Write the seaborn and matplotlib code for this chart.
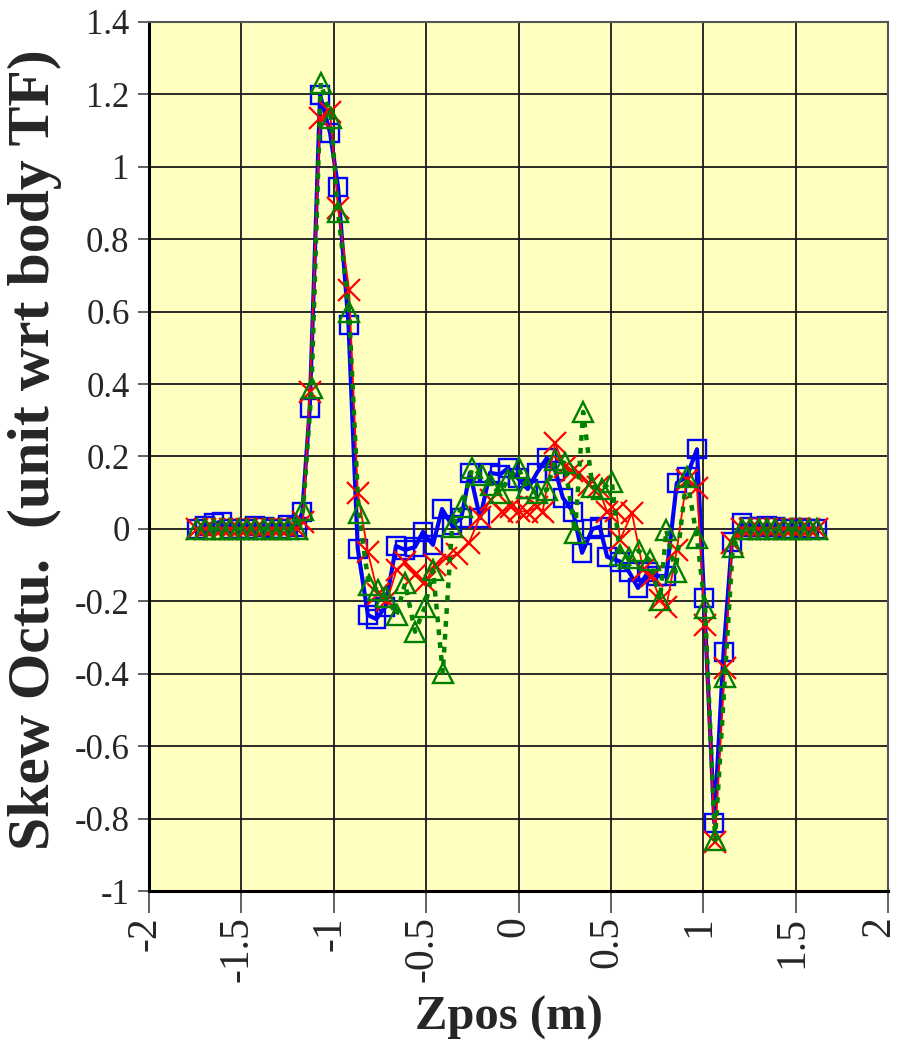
import numpy as np
import pandas as pd
import matplotlib
matplotlib.use("Agg")
import matplotlib.pyplot as plt
import matplotlib.transforms as mtransforms
import seaborn as sns
from matplotlib.ticker import FuncFormatter

# ---------------- data ----------------
flat_left_x = [-1.74, -1.695, -1.65, -1.605, -1.56, -1.515, -1.47, -1.425, -1.38, -1.335, -1.29, -1.245, -1.20]
flat_right_x = [1.21, 1.255, 1.30, 1.345, 1.39, 1.435, 1.48, 1.525, 1.57, 1.615]

blue_x = flat_left_x + [-1.17, -1.13, -1.074, -1.02, -0.977, -0.92, -0.87, -0.815, -0.77, -0.72,
                        -0.663, -0.614, -0.56, -0.517, -0.463, -0.414, -0.36, -0.31, -0.263, -0.208,
                        -0.154, -0.10, -0.057, -0.003, 0.05, 0.10, 0.154, 0.20, 0.24, 0.295,
                        0.344, 0.40, 0.44, 0.48, 0.55, 0.60, 0.647, 0.70, 0.75, 0.80,
                        0.857, 0.91, 0.966, 1.004, 1.06, 1.11, 1.155] + flat_right_x
blue_y = [0.0, 0.008, 0.015, 0.02, 0.0, 0.0, 0.0, 0.008, 0.005, 0.0, 0.0, 0.01, 0.005] + \
         [0.047, 0.334, 1.199, 1.094, 0.945, 0.563, -0.055, -0.238, -0.249, -0.215,
          -0.047, -0.058, -0.05, -0.008, -0.044, 0.055, 0.01, 0.03, 0.155, 0.03,
          0.155, 0.15, 0.168, 0.14, 0.11, 0.155, 0.196, 0.16, 0.086, 0.047,
          -0.066, 0.0, 0.006, -0.077, -0.09, -0.12, -0.163, -0.12, -0.13, -0.13,
          0.127, 0.144, 0.22, -0.19, -0.812, -0.34, -0.036] + \
         [0.016, 0.005, 0.005, 0.008, 0.005, 0.0, 0.0, 0.003, 0.0, 0.0]

red_x = flat_left_x + [-1.166, -1.13, -1.074, -1.02, -0.977, -0.917, -0.87, -0.815, -0.76, -0.71,
                       -0.66, -0.614, -0.56, -0.506, -0.45, -0.39, -0.333, -0.27, -0.208, -0.15,
                       -0.09, -0.04, 0.0, 0.046, 0.10, 0.13, 0.198, 0.25, 0.29, 0.33,
                       0.38, 0.43, 0.48, 0.53, 0.55, 0.614, 0.675, 0.72, 0.766, 0.80,
                       0.857, 0.91, 0.966, 1.01, 1.063, 1.117, 1.155] + flat_right_x
red_y = [0.0] * 13 + \
        [0.02, 0.378, 1.135, 1.152, 0.887, 0.66, 0.10, -0.065, -0.18, -0.196,
         -0.113, -0.09, -0.127, -0.146, -0.10, -0.08, -0.07, -0.04, 0.033, 0.08,
         0.047, 0.06, 0.05, 0.047, 0.06, 0.047, 0.237, 0.17, 0.16, 0.155,
         0.12, 0.116, 0.047, 0.05, -0.03, 0.044, -0.113, -0.13, -0.196, -0.215,
         -0.058, 0.135, 0.113, -0.265, -0.865, -0.384, -0.04] + \
        [0.0] * 10

green_x = flat_left_x + [-1.166, -1.12, -1.07, -1.015, -0.977, -0.917, -0.865, -0.81, -0.76, -0.715,
                         -0.66, -0.614, -0.56, -0.506, -0.463, -0.41, -0.36, -0.306, -0.25, -0.2,
                         -0.15, -0.1, -0.057, 0.0, 0.046, 0.10, 0.154, 0.198, 0.25, 0.306,
                         0.35, 0.40, 0.45, 0.505, 0.55, 0.60, 0.65, 0.71, 0.766, 0.80,
                         0.85, 0.91, 0.966, 1.01, 1.064, 1.117, 1.16] + flat_right_x
green_y = [0.0] * 13 + \
          [0.052, 0.39, 1.232, 1.135, 0.876, 0.6, 0.044, -0.155, -0.17, -0.188,
           -0.238, -0.15, -0.284, -0.215, -0.113, -0.398, 0.006, 0.06, 0.168, 0.149,
           0.12, 0.10, 0.135, 0.168, 0.113, 0.10, 0.108, 0.19, 0.182, -0.01,
           0.323, 0.116, 0.11, 0.13, -0.072, -0.08, -0.06, -0.086, -0.196, -0.003,
           -0.12, 0.144, -0.025, -0.218, -0.86, -0.41, -0.05] + \
          [0.0] * 10

x_ticks = [-2, -1.5, -1, -0.5, 0, 0.5, 1, 1.5, 2]
y_ticks = [-1, -0.8, -0.6, -0.4, -0.2, 0, 0.2, 0.4, 0.6, 0.8, 1, 1.2, 1.4]
x_title = "Zpos (m)"
y_title = "Skew Octu.  (unit wrt body TF)"

# ---------------- style ----------------
sns.set_theme(style="white")
plt.rcParams["font.family"] = ["Liberation Serif", "DejaVu Serif"]

fig = plt.figure(figsize=(8.99, 10.52), dpi=100)
ax = fig.add_axes([149 / 899, 1 - 891 / 1052, (888 - 149) / 899, (891 - 22) / 1052])
ax.set_facecolor("#FFFFC0")

# blue series
sns.lineplot(x=blue_x, y=blue_y, ax=ax, sort=False, estimator=None,
             color="#0000FF", linewidth=3.0, marker="s", markersize=13.5,
             markerfacecolor="none", markeredgecolor="#0000FF", markeredgewidth=1.7,
             zorder=3)
# red series
sns.lineplot(x=red_x, y=red_y, ax=ax, sort=False, estimator=None,
             color="#FF0000", linewidth=1.3, marker="x", markersize=16,
             markeredgecolor="#FF0000", markeredgewidth=1.6, zorder=4)
# green series
sns.lineplot(x=green_x, y=green_y, ax=ax, sort=False, estimator=None,
             color="#008000", linewidth=3.2, linestyle=(0, (1.3, 1.6)),
             marker="^", markersize=15, markerfacecolor="none",
             markeredgecolor="#008000", markeredgewidth=1.7, zorder=5)

ax.set_xlim(-2, 2)
ax.set_ylim(-1, 1.4)
ax.set_xticks(x_ticks)
ax.set_yticks(y_ticks)


def fmt(v, pos=None):
    s = ("%.2f" % v).rstrip("0").rstrip(".")
    if s == "-0":
        s = "0"
    return s


ax.xaxis.set_major_formatter(FuncFormatter(fmt))
ax.yaxis.set_major_formatter(FuncFormatter(fmt))

ax.grid(True, color="#1a1a1a", linewidth=1.3)
ax.set_axisbelow(True)

for side in ["left", "bottom"]:
    ax.spines[side].set_color("black")
    ax.spines[side].set_linewidth(2.2)
for side in ["top", "right"]:
    ax.spines[side].set_color("#555555")
    ax.spines[side].set_linewidth(1.5)

ax.tick_params(axis="x", direction="out", length=16, width=1.3, color="#555555",
               labelsize=30, rotation=90, pad=2, bottom=True)
ax.tick_params(axis="y", direction="out", length=8, width=1.3, color="#555555",
               labelsize=25, pad=6, left=True)

# shift x tick labels slightly left (as in reference); last one a bit more
xlabels = ax.get_xticklabels()
for i, lab in enumerate(xlabels):
    dx = -4 if i < len(xlabels) - 1 else -9
    offset = mtransforms.ScaledTranslation(dx / 100, 0, fig.dpi_scale_trans)
    lab.set_transform(lab.get_transform() + offset)

ax.set_xlabel(x_title, fontsize=35, fontweight="bold")
ax.set_ylabel(y_title, fontsize=43, fontweight="bold")
ax.xaxis.set_label_coords(0.487, -0.120)
ax.yaxis.set_label_coords(-0.118, 0.5075)

fig.savefig("out.png", dpi=100, facecolor="white")
